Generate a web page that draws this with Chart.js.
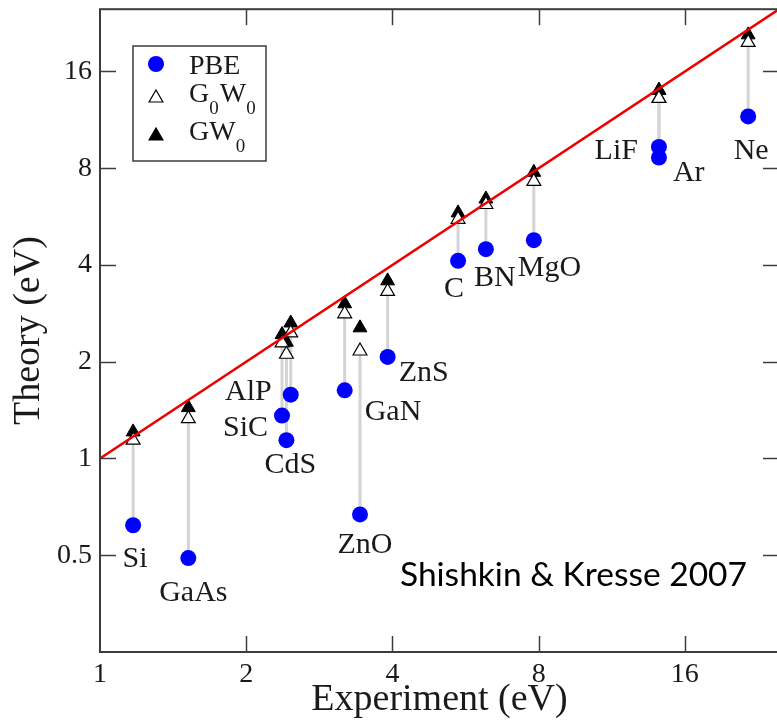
<!DOCTYPE html>
<html>
<head>
<meta charset="utf-8">
<script src="https://cdn.jsdelivr.net/npm/chart.js@4.4.0/dist/chart.umd.min.js"></script>
<style>
  html, body { margin: 0; padding: 0; background: #fff; overflow: hidden; }
  #wrap { width: 790px; height: 725px; }
</style>
</head>
<body>
<div id="wrap"><canvas id="chart" width="790" height="725"></canvas></div>
<script>
/* ── DATA ───────────────────────────────────── */
const materials  = ['Si', 'GaAs', 'SiC', 'CdS', 'AlP', 'GaN', 'ZnO', 'ZnS', 'C', 'BN', 'MgO', 'LiF', 'Ar', 'Ne'];
const experiment = [1.17, 1.52, 2.37, 2.42, 2.47, 3.19, 3.43, 3.91, 5.46, 6.23, 7.82, 14.15, 14.15, 21.6];
const pbe        = [0.62, 0.49, 1.36, 1.14, 1.58, 1.63, 0.67, 2.07, 4.12, 4.48, 4.78, 9.32, 8.64, 11.6];
const g0w0       = [1.14, 1.33, 2.29, 2.11, 2.46, 2.82, 2.16, 3.31, 5.55, 6.17, 7.28, 13.2, 13.2, 19.7];
const gw0        = [1.21, 1.44, 2.43, 2.30, 2.64, 3.03, 2.55, 3.57, 5.81, 6.42, 7.77, 13.98, 13.98, 20.8];

const xTicks = [1, 2, 4, 8, 16];
const yTicks = [0.5, 1, 2, 4, 8, 16];
const xRange = [1, 25];
const yRange = [0.25, 25];
const diagonal = [1, 25];

/* label placement relative to the PBE point: dx, dy (baseline), align */
const labelPlace = [
    [2, 42, 'center'], [5, 43, 'center'], [-14, 20, 'right'], [4, 33, 'center'],
    [-19, 5, 'right'], [20, 30, 'left'], [5, 39, 'center'], [11, 24, 'left'],
    [-4, 36, 'center'], [-12, 37, 'left'], [-16, 36, 'left'], [-21, 12, 'right'],
    [14, 23, 'left'], [3, 43, 'center']
];

/* ── STYLE ──────────────────────────────────── */
const serif = "'Liberation Serif', 'Times New Roman', serif";
const ink   = '#1a1a1a';
const axisInk = '#3c3c3c';
const blue  = '#0000ff';

const pts = ys => materials.map((m, i) => ({ x: experiment[i], y: ys[i] }));

const connectors = materials.map((m, i) => ({
    type: 'line',
    data: [{ x: experiment[i], y: pbe[i] }, { x: experiment[i], y: g0w0[i] }],
    borderColor: '#d4d4d4',
    borderWidth: 3,
    pointRadius: 0,
    showLine: true,
    fill: false
}));

/* ── PLUGINS ────────────────────────────────── */
const framePlugin = {
    id: 'frame',
    afterDatasetsDraw(chart) {
        const { ctx, chartArea: a, scales: { x, y } } = chart;
        ctx.save();
        ctx.strokeStyle = axisInk;
        ctx.lineWidth = 1.5;
        const seg = (x1, y1, x2, y2) => { ctx.beginPath(); ctx.moveTo(x1, y1); ctx.lineTo(x2, y2); ctx.stroke(); };
        xTicks.slice(1).forEach(v => {
            const px = Math.round(x.getPixelForValue(v)) + 0.5;
            seg(px, a.bottom, px, a.bottom - 16);
            seg(px, a.top, px, a.top + 16);
        });
        yTicks.forEach(v => {
            const py = Math.round(y.getPixelForValue(v)) + 0.5;
            seg(a.left, py, a.left + 16, py);
            seg(a.right, py, a.right - 16, py);
        });
        ctx.lineWidth = 2;
        ctx.strokeRect(a.left, a.top, a.right - a.left, a.bottom - a.top);

        // material labels
        ctx.fillStyle = ink;
        ctx.font = '30px ' + serif;
        ctx.textBaseline = 'alphabetic';
        materials.forEach((m, i) => {
            const [dx, dy, align] = labelPlace[i];
            ctx.textAlign = align;
            ctx.fillText(m, x.getPixelForValue(experiment[i]) + dx, y.getPixelForValue(pbe[i]) + dy);
        });

        // source note
        ctx.textAlign = 'left';
        ctx.font = "33.5px Lato, 'Open Sans', sans-serif";
        ctx.fillStyle = '#000';
        ctx.fillText('Shishkin & Kresse 2007', 400, 586);

        // legend
        ctx.lineWidth = 1.5;
        ctx.strokeStyle = axisInk;
        ctx.strokeRect(133, 46, 133, 115);
        ctx.fillStyle = blue;
        ctx.beginPath(); ctx.arc(156, 64, 8, 0, Math.PI * 2); ctx.fill();
        ctx.fillStyle = '#fff'; ctx.strokeStyle = '#000'; ctx.lineWidth = 1.2;
        Chart.helpers.drawPoint(ctx, { pointStyle: 'triangle', radius: 8, borderWidth: 1.2 }, 156, 98);
        ctx.fillStyle = '#000';
        Chart.helpers.drawPoint(ctx, { pointStyle: 'triangle', radius: 8, borderWidth: 1 }, 156, 136);

        const big = '28px ' + serif, small = '19px ' + serif;
        const runs = (parts, x0, base) => {
            let cx = x0;
            parts.forEach(([t, sub]) => {
                ctx.font = sub ? small : big;
                ctx.fillText(t, cx, sub ? base + 12 : base);
                cx += ctx.measureText(t).width + (sub ? 1 : 0);
            });
        };
        ctx.fillStyle = ink;
        runs([['PBE', false]], 189, 74);
        runs([['G', false], ['0', true], ['W', false], ['0', true]], 189, 102);
        runs([['GW', false], ['0', true]], 189, 140);
        ctx.restore();
    }
};

/* ── CHART ──────────────────────────────────── */
const tickFont = { family: serif, size: 28 };

new Chart(document.getElementById('chart'), {
    type: 'scatter',
    data: {
        datasets: [
            {
                type: 'line',
                data: diagonal.map(v => ({ x: v, y: v })),
                borderColor: '#ee0000',
                borderWidth: 2.5,
                pointRadius: 0,
                showLine: true,
                fill: false
            },
            {
                label: 'G0W0',
                data: pts(g0w0),
                pointStyle: 'triangle',
                pointRadius: 8,
                backgroundColor: '#ffffff',
                borderColor: '#000000',
                borderWidth: 1.2
            },
            {
                label: 'GW0',
                data: pts(gw0),
                pointStyle: 'triangle',
                pointRadius: 8,
                backgroundColor: '#000000',
                borderColor: '#000000',
                borderWidth: 1
            },
            {
                label: 'PBE',
                data: pts(pbe),
                pointStyle: 'circle',
                pointRadius: 8,
                backgroundColor: blue,
                borderWidth: 0
            },
            ...connectors
        ]
    },
    options: {
        responsive: false,
        animation: false,
        events: [],
        layout: { padding: { top: 6, right: 11, left: 0, bottom: 0 } },
        plugins: { legend: { display: false }, tooltip: { enabled: false } },
        scales: {
            x: {
                type: 'logarithmic',
                min: xRange[0],
                max: xRange[1],
                grid: { display: false, drawTicks: false },
                border: { display: false },
                afterBuildTicks: s => { s.ticks = xTicks.map(v => ({ value: v })); },
                afterFit: s => { s.height = 73; s.paddingLeft = 0; s.paddingRight = 0; },
                ticks: { font: tickFont, color: ink, padding: 6, maxRotation: 0, autoSkip: false, callback: v => String(v) },
                title: { display: true, text: 'Experiment (eV)', color: ink, font: { family: serif, size: 38 }, padding: { top: 0, bottom: 2 } }
            },
            y: {
                type: 'logarithmic',
                min: yRange[0],
                max: yRange[1],
                grid: { display: false, drawTicks: false },
                border: { display: false },
                afterBuildTicks: s => { s.ticks = yTicks.map(v => ({ value: v })); },
                afterFit: s => { s.width = 100; s.paddingTop = 0; s.paddingBottom = 0; },
                ticks: { font: tickFont, color: ink, padding: 8, autoSkip: false, callback: v => String(v) },
                title: { display: true, text: 'Theory (eV)', color: ink, font: { family: serif, size: 38 }, padding: { top: 6, bottom: 0 } }
            }
        }
    },
    plugins: [framePlugin]
});
</script>
</body>
</html>
